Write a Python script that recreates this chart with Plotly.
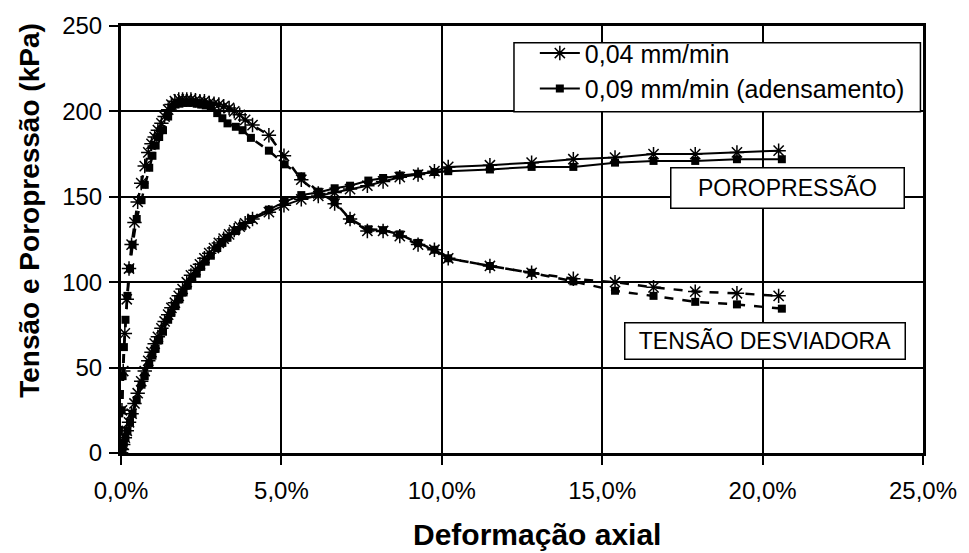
import plotly.graph_objects as go

# ---------------- data ----------------
# 0,04 mm/min (asterisk markers)
strain_a = [0.00, 0.03, 0.07, 0.12, 0.18, 0.25, 0.33, 0.42, 0.52, 0.63, 0.74, 0.85, 0.95, 1.05,
            1.15, 1.26, 1.36, 1.47, 1.57, 1.68, 1.80, 1.92, 2.05, 2.18, 2.32, 2.46, 2.60, 2.75,
            2.90, 3.05, 3.20, 3.37, 3.53, 3.70, 3.87, 4.10, 4.61, 5.08, 5.62, 6.15, 6.66, 7.14,
            7.68, 8.17, 8.69, 9.26, 9.77, 10.2, 11.5, 12.8, 14.1, 15.4, 16.6, 17.9, 19.2, 20.5]
dev_a = [0, 25, 48, 70, 90, 108, 122, 135, 147, 158, 168, 176, 181, 185,
         189, 193, 197, 201, 204, 206, 207, 207, 207, 207, 206.5, 206, 206, 205,
         204.5, 204, 203, 202, 200, 198, 195, 192, 186, 174, 160, 152, 146, 137,
         130, 130, 127, 122, 119, 114, 109.5, 105.5, 102, 100, 97, 94.5, 93.5, 92]
pore_a = [0, 2, 5, 9, 13, 18, 23, 29, 35, 42, 48, 54, 59, 64,
          68, 73, 77, 81, 85, 88, 92, 96, 100, 104, 107, 110.5, 114, 117,
          120, 123, 125.5, 128, 130.5, 132.5, 134.5, 137, 141, 145, 148.5, 150.5, 152.5, 154.5,
          156.5, 159, 161.5, 163, 165, 167.5, 168.5, 170, 172, 173, 175, 175, 176, 177]

# 0,09 mm/min (adensamento) (square markers)
strain_b = [0.00, 0.02, 0.05, 0.09, 0.14, 0.20, 0.28, 0.36, 0.49, 0.64, 0.74, 0.88, 0.98, 1.08,
            1.19, 1.31, 1.47, 1.57, 1.70, 1.82, 1.95, 2.08, 2.22, 2.36, 2.50, 2.64, 2.80, 3.00,
            3.16, 3.32, 3.58, 3.79, 4.05, 4.61, 5.10, 5.62, 6.15, 6.66, 7.14, 7.71, 8.17, 8.69,
            9.26, 9.77, 10.2, 11.5, 12.8, 14.1, 15.4, 16.6, 17.9, 19.2, 20.6]
dev_b = [0, 25, 45, 62, 78, 92, 108, 122, 137, 148, 157, 167, 174, 180,
         185, 189, 197, 202, 204, 204.5, 205, 205, 205, 204.5, 204, 203.5, 203, 199,
         196, 193, 191, 189, 184.5, 177, 169, 162, 153, 147, 137, 131, 130.5, 128,
         123, 119, 114, 109.5, 105.5, 100.5, 95, 92, 88.5, 87, 84.5]
pore_b = [0, 1, 3, 6, 9, 13, 18, 23, 31, 40, 45, 52, 57, 61,
          66, 71, 78, 82, 86, 90, 94, 98, 102, 105, 109, 112, 115.5, 120,
          123, 126, 130, 133, 137, 142.5, 147, 151, 152.5, 155, 156.5, 159.5, 161, 162.5,
          163.5, 164.5, 165, 166, 167.5, 167.5, 170, 171, 171, 172, 172]

x_tickvals = [0, 5, 10, 15, 20, 25]
x_ticktext = ["0,0%", "5,0%", "10,0%", "15,0%", "20,0%", "25,0%"]
y_tickvals = [0, 50, 100, 150, 200, 250]

name_a = "0,04 mm/min"
name_b = "0,09 mm/min (adensamento)"
label_pore = "POROPRESSÃO"
label_dev = "TENSÃO DESVIADORA"
x_title = "Deformação axial"
y_title = "Tensão e Poropressão (kPa)"

# ---------------- figure ----------------
FONT = "Liberation Sans, Arial, sans-serif"
BLACK = "#000000"

mk_a = dict(symbol="asterisk-open", size=12, color=BLACK, line=dict(color=BLACK, width=1.5))
mk_b = dict(symbol="square", size=8, color=BLACK, line=dict(color=BLACK, width=0))

fig = go.Figure()
# deviator stress (dashed)
fig.add_trace(go.Scatter(x=strain_a, y=dev_a, mode="lines+markers", showlegend=False,
                         line=dict(color=BLACK, width=2.5, dash="dash"), marker=mk_a))
fig.add_trace(go.Scatter(x=strain_b, y=dev_b, mode="lines+markers", showlegend=False,
                         line=dict(color=BLACK, width=2.5, dash="dash"), marker=mk_b))
# pore pressure (solid) -> legend entries
fig.add_trace(go.Scatter(x=strain_a, y=pore_a, mode="lines+markers", name=name_a,
                         line=dict(color=BLACK, width=2), marker=mk_a))
fig.add_trace(go.Scatter(x=strain_b, y=pore_b, mode="lines+markers", name=name_b,
                         line=dict(color=BLACK, width=2), marker=mk_b))

axis_common = dict(
    showline=True, linecolor=BLACK, linewidth=3, mirror=True,
    showgrid=True, gridcolor=BLACK, gridwidth=1.5,
    ticks="outside", ticklen=9, tickwidth=1.5, tickcolor=BLACK,
    zeroline=False,
    tickfont=dict(family=FONT, size=24, color=BLACK),
)

fig.update_xaxes(range=[0, 25], tickvals=x_tickvals, ticktext=x_ticktext,
                 ticklabelstandoff=5, **axis_common)
fig.update_yaxes(range=[0, 250], tickvals=y_tickvals, ticklabelstandoff=2, **axis_common)

fig.update_layout(
    width=969, height=553,
    margin=dict(l=121, r=40, t=20, b=100),
    paper_bgcolor="white", plot_bgcolor="white",
    font=dict(family=FONT, color=BLACK),
    legend=dict(
        x=0.516, y=0.99, xanchor="left", yanchor="top",
        bgcolor="rgba(0,0,0,0)", borderwidth=0,
        font=dict(family=FONT, size=25, color=BLACK),
        tracegroupgap=0, itemwidth=40,
    ),
    shapes=[
        # legend frame (drawn above the grid, below the data)
        dict(type="rect", xref="x", yref="y", x0=12.25, x1=24.92, y0=199.8, y1=240.2,
             layer="between", fillcolor="white", line=dict(color=BLACK, width=1.5)),
    ],
    annotations=[
        dict(x=20.79, y=155, xref="x", yref="y", text=label_pore, showarrow=False,
             font=dict(family=FONT, size=23, color=BLACK), width=230, height=37,
             bordercolor=BLACK, borderwidth=1.5, borderpad=1, bgcolor="white"),
        dict(x=20.08, y=65.8, xref="x", yref="y", text=label_dev, showarrow=False,
             font=dict(family=FONT, size=23, color=BLACK), width=277, height=33,
             bordercolor=BLACK, borderwidth=1.5, borderpad=1, bgcolor="white"),
        dict(x=0.5186, y=-0.19, xref="paper", yref="paper", text="<b>" + x_title + "</b>",
             showarrow=False, xanchor="center", yanchor="middle",
             font=dict(family=FONT, size=30, color=BLACK)),
        dict(x=-0.1151, y=0.569, xref="paper", yref="paper", text="<b>" + y_title + "</b>",
             showarrow=False, textangle=-90, xanchor="center", yanchor="middle",
             font=dict(family=FONT, size=28, color=BLACK)),
    ],
)

fig.write_html("out.html")
